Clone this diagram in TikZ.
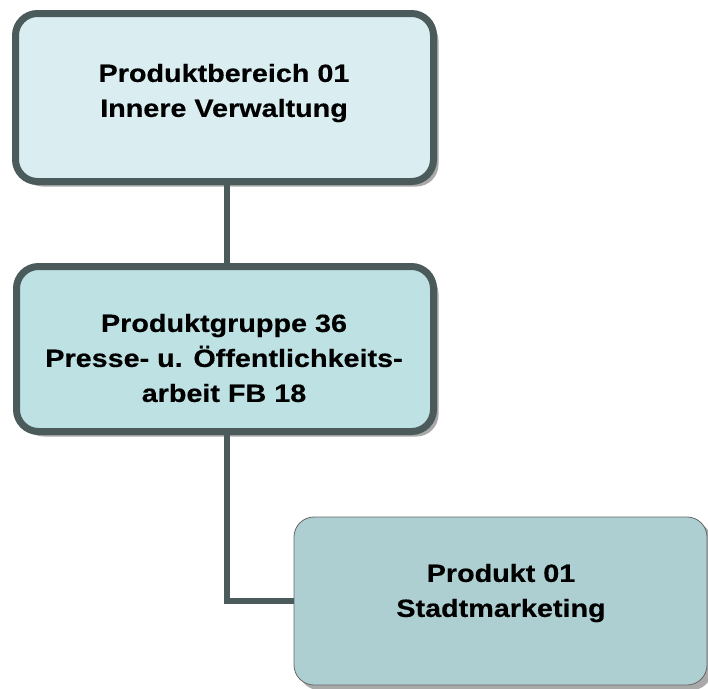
\documentclass[tikz,border=0pt]{standalone}
\usepackage{fontspec}
\setmainfont{Liberation Sans}[FakeStretch=1.15,BoldFeatures={FakeBold=0.4}]
\usetikzlibrary{shadows}
\definecolor{edgec}{HTML}{4B5A5A}
\definecolor{fillA}{HTML}{DAEDF0}
\definecolor{fillB}{HTML}{BEE1E4}
\definecolor{fillC}{HTML}{AECFD1}
\definecolor{shadc}{HTML}{A9A9A9}
\tikzset{
  boxbase/.style={rectangle, rounded corners=22pt, inner sep=0pt,
    general shadow={shadow xshift=5pt, shadow yshift=-5pt, fill=shadc}},
  thickbox/.style={boxbase, draw=edgec, line width=7pt},
  thinbox/.style={boxbase, draw=gray!80!black, line width=0.8pt, rounded corners=20pt},
  boxtext/.style={align=center, font=\fontsize{25}{35}\selectfont\bfseries, inner sep=0pt},
  link/.style={draw=edgec, line width=6pt}
}
\begin{document}
\begin{tikzpicture}[x=1pt,y=-1pt]
\useasboundingbox (0,0) rectangle (708,688);
\node[thickbox, fill=fillA, minimum width=418pt, minimum height=168pt] (b1) at (224.5,97.5) {};
\node[thickbox, fill=fillB, minimum width=417pt, minimum height=165pt] (b2) at (225,349) {};
\node[thinbox, fill=fillC, minimum width=413pt, minimum height=168pt] (b3) at (500.5,601) {};
\coordinate (k) at (227,601);
\draw[link] (b1.south -| k) -- (b2.north -| k);
\draw[link] (b2.south -| k) -- (k) -- (b3.west);
\node[boxtext] (t1) at (224,93) {Produktbereich 01\\Innere Verwaltung};
\node[boxtext] (t2) at (224,358) {Produktgruppe 36\\Presse- u. Öffentlichkeits-\\arbeit FB 18};
\node[boxtext] (t3) at (501,593) {Produkt 01\\Stadtmarketing};
\end{tikzpicture}
\end{document}
